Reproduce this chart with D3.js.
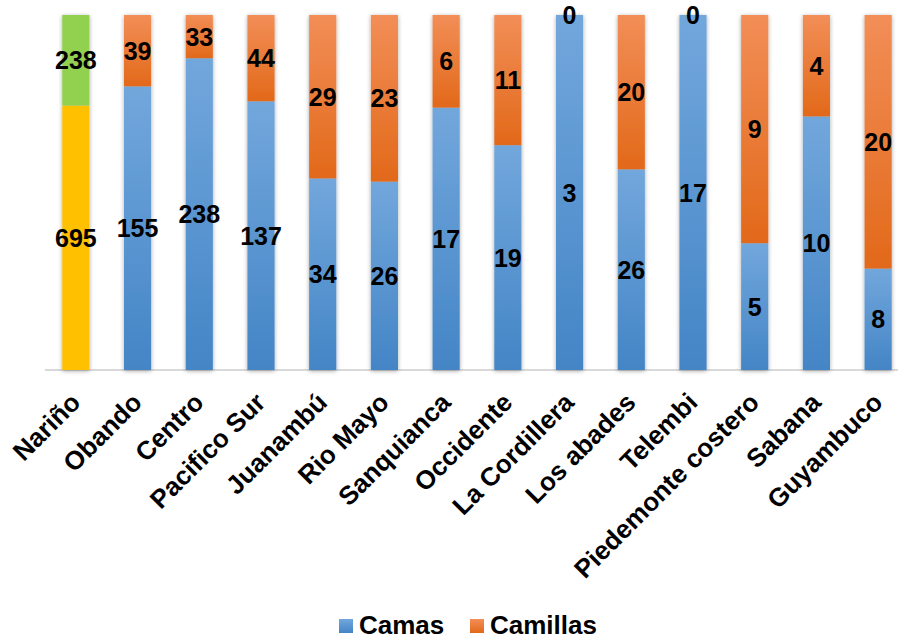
<!DOCTYPE html>
<html>
<head>
<meta charset="utf-8">
<script src="https://cdn.jsdelivr.net/npm/d3@7"></script>
<style>
  body { margin: 0; background: #fff; }
  text { font-family: Arial, "Liberation Sans", sans-serif; font-weight: bold; fill: #000; }
</style>
</head>
<body>
<div id="chart"></div>
<script>
var categories = ["Nariño", "Obando", "Centro", "Pacifico Sur", "Juanambú", "Rio Mayo",
  "Sanquianca", "Occidente", "La Cordillera", "Los abades", "Telembi",
  "Piedemonte costero", "Sabana", "Guyambuco"];
var camas    = [695, 155, 238, 137, 34, 26, 17, 19, 3, 26, 17, 5, 10, 8];
var camillas = [238, 39, 33, 44, 29, 23, 6, 11, 0, 20, 0, 9, 4, 20];
var seriesNames = ["Camas", "Camillas"];

var width = 898, height = 640;
var plotTop = 15, plotBottom = 370;

var svg = d3.select("#chart").append("svg")
  .attr("width", width)
  .attr("height", height);

var defs = svg.append("defs");
// degradados de las barras
function grad(id, c1, c2) {
  var g = defs.append("linearGradient").attr("id", id)
    .attr("x1", 0).attr("y1", 0).attr("x2", 0).attr("y2", 1);
  g.append("stop").attr("offset", "0%").attr("stop-color", c1);
  g.append("stop").attr("offset", "100%").attr("stop-color", c2);
}
grad("gBlue", "#72a7dc", "#4485c6");
grad("gOrange", "#f28e57", "#e2691a");

var sh = defs.append("filter").attr("id", "shadow")
  .attr("x", "-50%").attr("y", "-10%").attr("width", "200%").attr("height", "120%");
sh.append("feDropShadow").attr("dx", 0).attr("dy", 1)
  .attr("stdDeviation", 2.2).attr("flood-color", "#000").attr("flood-opacity", 0.35);

var x = d3.scaleBand().domain(categories).range([45, 909])
  .paddingInner(0.56).paddingOuter(0.28);
var y = d3.scaleLinear().domain([0, 1]).range([plotBottom, plotTop]);

var rows = categories.map(function(c, i) {
  return { cat: c, Camas: camas[i], Camillas: camillas[i] };
});
var stack = d3.stack().keys(seriesNames).offset(d3.stackOffsetExpand);
var layers = stack(rows);

// eje horizontal
svg.append("line")
  .attr("x1", 45).attr("x2", width)
  .attr("y1", plotBottom).attr("y2", plotBottom)
  .attr("stroke", "#d9d9d9").attr("stroke-width", 2);

function fillFor(key, i) {
  if (i === 0) return key === "Camas" ? "#ffc000" : "#92d050";
  return key === "Camas" ? "url(#gBlue)" : "url(#gOrange)";
}

var gBars = svg.append("g");
categories.forEach(function(c, i) {
  var g = gBars.append("g").attr("filter", "url(#shadow)");
  layers.forEach(function(layer) {
    var d = layer[i];
    g.append("rect")
      .attr("x", x(c))
      .attr("width", x.bandwidth())
      .attr("y", y(d[1]))
      .attr("height", Math.max(0, y(d[0]) - y(d[1])))
      .attr("fill", fillFor(layer.key, i));
  });
});

// etiquetas de datos
layers.forEach(function(layer) {
  svg.append("g").selectAll("text")
    .data(layer)
    .enter().append("text")
    .attr("x", function(d) { return x(d.data.cat) + x.bandwidth() / 2; })
    .attr("y", function(d) { return (y(d[0]) + y(d[1])) / 2; })
    .attr("text-anchor", "middle")
    .attr("dy", "0.36em")
    .style("font-size", "25px")
    .text(function(d) { return d.data[layer.key]; });
});

// etiquetas de categorias
svg.append("g").selectAll("text")
  .data(categories)
  .enter().append("text")
  .attr("transform", function(d) {
    return "translate(" + (x(d) + x.bandwidth() / 2 + 6) + "," + 404 + ") rotate(-45)";
  })
  .attr("text-anchor", "end")
  .style("font-size", "26px")
  .text(function(d) { return d; });

// leyenda
var legend = svg.append("g");
var legX = [339, 470];
seriesNames.forEach(function(s, i) {
  legend.append("rect")
    .attr("x", legX[i]).attr("y", 619)
    .attr("width", 14).attr("height", 14)
    .attr("fill", i === 0 ? "url(#gBlue)" : "url(#gOrange)");
  legend.append("text")
    .attr("x", legX[i] + 20).attr("y", 634)
    .style("font-size", "26px")
    .text(s);
});
</script>
</body>
</html>
